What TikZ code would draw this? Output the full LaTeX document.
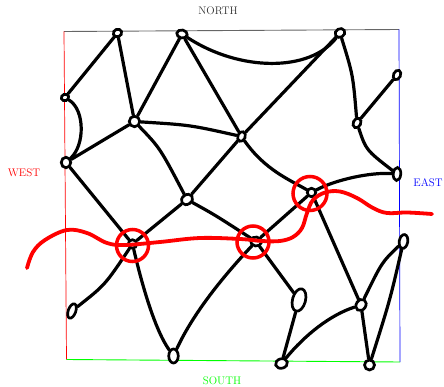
\documentclass[tikz,border=0pt]{standalone}
\usetikzlibrary{shapes.geometric}
\begin{document}
\begin{tikzpicture}[x=1pt,y=-1pt,
  knot/.style={ellipse, draw=black, line width=2.7pt, inner sep=0pt, fill=white},
  edge/.style={line width=3.2pt, line cap=round, black},
  redline/.style={red, line width=3.8pt, line cap=round},
  lbl/.style={font=\fontsize{11}{13}\selectfont, inner sep=0pt}]
\useasboundingbox (0,0) rectangle (444,387);
% frame
\coordinate (nw) at (64,31.5);
\coordinate (ne) at (399,29.5);
\coordinate (se) at (400,362);
\coordinate (sw) at (66.5,359.5);
\draw[black!60, line width=0.9pt] (nw) -- (ne);
\draw[red, line width=0.7pt] (nw) -- (sw);
\draw[blue, line width=0.7pt] (ne) -- (se);
\draw[green, line width=0.9pt] (sw) -- (se);
% labels
\node[lbl, text=black!80] (north) at (218,11) {NORTH};
\node[lbl, text=red] (west) at (24,173) {WEST};
\node[lbl, text=blue] (east) at (428,183) {EAST};
\node[lbl, text=green] (south) at (222,381) {SOUTH};
% knots
\node[knot, minimum width=8.5pt, minimum height=7.5pt, rotate=20] (A) at (117.5,33) {};
\node[knot, minimum width=10.5pt, minimum height=8pt, rotate=-10] (B) at (182,34) {};
\node[knot, minimum width=10pt, minimum height=8.5pt, rotate=30] (C) at (340,33) {};
\node[knot, minimum width=7pt, minimum height=10pt, rotate=-25] (D) at (397,75) {};
\node[knot, minimum width=7.5pt, minimum height=6.5pt, rotate=20] (E) at (65,97.5) {};
\node[knot, minimum width=10.5pt, minimum height=10.5pt] (F) at (134.5,121.5) {};
\node[knot, minimum width=7.5pt, minimum height=10pt, rotate=-25] (G) at (357,123) {};
\node[knot, minimum width=7.5pt, minimum height=10pt, rotate=-20] (H) at (241.5,136.5) {};
\node[knot, minimum width=9.5pt, minimum height=10.5pt] (I) at (66,162.5) {};
\node[knot, minimum width=7.5pt, minimum height=13pt, rotate=-5] (J) at (397,174) {};
\node[knot, minimum width=12pt, minimum height=9.5pt, rotate=35] (K) at (187,199.5) {};
\node[knot, minimum width=8.5pt, minimum height=8.5pt] (L) at (311.5,192.5) {};
\node[knot, minimum width=8.5pt, minimum height=8.5pt] (M) at (132.5,244) {};
\node[knot, minimum width=11pt, minimum height=9pt, rotate=-10] (N) at (256,241.5) {};
\node[knot, minimum width=8.5pt, minimum height=14pt, rotate=-10] (O) at (403.5,241.5) {};
\node[knot, minimum width=7.5pt, minimum height=15pt, rotate=-20] (P) at (72,311) {};
\node[knot, minimum width=13pt, minimum height=23pt, rotate=-15] (Q) at (299,300) {};
\node[knot, minimum width=9.5pt, minimum height=14pt] (R) at (173.5,356) {};
\node[knot, minimum width=9.5pt, minimum height=12pt, rotate=-35] (S) at (361,305) {};
\node[knot, minimum width=12pt, minimum height=9.5pt, rotate=15] (T) at (281.5,363.5) {};
\node[knot, minimum width=10pt, minimum height=10pt] (U) at (369.5,365) {};
% edges
\draw[edge] (A) -- (E);
\draw[edge] (A) -- (F);
\draw[edge] (B) -- (F);
\draw[edge] (B) -- (H);
\draw[edge] (B) .. controls (240,72) and (310,72) .. (C);
\draw[edge] (C) -- (H);
\draw[edge] (C) .. controls (353,75) .. (G);
\draw[edge] (D) -- (G);
\draw[edge] (E) .. controls (85,110) and (85,145) .. (I);
\draw[edge] (F) .. controls (190,125) .. (H);
\draw[edge] (F) -- (I);
\draw[edge] (F) .. controls (160,148) .. (K);
\draw[edge] (K) .. controls (215,215) .. (N);
\draw[edge] (H) -- (K);
\draw[edge] (K) -- (M);
\draw[edge] (H) .. controls (265,170) and (290,180) .. (L);
\draw[edge] (G) .. controls (366,150) .. (J);
\draw[edge] (L) .. controls (335,180) and (370,172) .. (J);
\draw[edge] (L) -- (N);
\draw[edge] (L) -- (S);
\draw[edge] (I) -- (M);
\draw[edge] (M) .. controls (105,285) .. (P);
\draw[edge] (M) .. controls (142,285) and (155,330) .. (R);
\draw[edge] (N) .. controls (215,285) and (190,320) .. (R);
\draw[edge] (N) -- (Q);
\draw[edge] (Q) -- (T);
\draw[edge] (T) .. controls (305,335) and (330,315) .. (S);
\draw[edge] (O) .. controls (382,262) .. (S);
\draw[edge] (S) -- (U);
\draw[edge] (O) .. controls (390,300) .. (U);
% red cut line and circles
\draw[redline] plot[smooth, tension=0.6] coordinates {(27,268) (33,252) (45,240) (67,230) (87,233) (107,243) (125,245) (160,242) (200,238) (240,239) (262,241) (280,241) (293,237) (302,228) (307,213) (313,200) (325,192.5) (340,191.5) (357,198) (373,208) (387,213) (407,212.5) (432,214)};
\draw[red, line width=3.5pt] (132.5,245.5) circle[radius=16pt];
\draw[red, line width=3.5pt] (253,242) circle[radius=16pt];
\draw[red, line width=3.5pt] (310,193.5) circle[radius=17pt];
\end{tikzpicture}
\end{document}
